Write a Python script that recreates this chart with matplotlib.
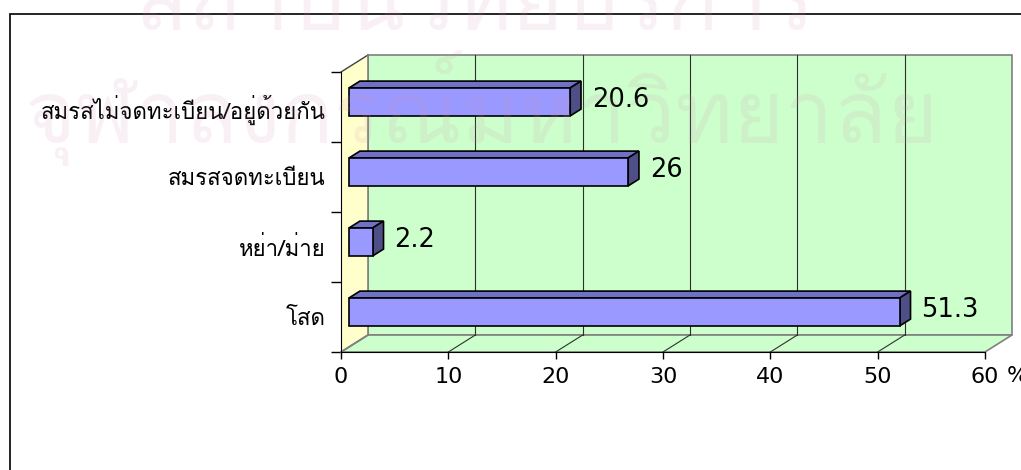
import matplotlib
matplotlib.use("Agg")
import matplotlib.pyplot as plt
from matplotlib import font_manager
from matplotlib.ft2font import FT2Font
from matplotlib.patches import Polygon, Rectangle

# marital status shares (%)
categories = ["โสด", "หย่า/ม่าย", "สมรสจดทะเบียน", "สมรสไม่จดทะเบียน/อยู่ด้วยกัน"]
values = [51.3, 2.2, 26, 20.6]
value_labels = ["51.3", "2.2", "26", "20.6"]
x_ticks = [0, 10, 20, 30, 40, 50, 60]
x_tick_labels = ["0", "10", "20", "30", "40", "50", "60"]
x_unit = "%"

W, H = 1021, 470
X_MAX = 60

PREFERRED_THAI = ["Tahoma", "Loma", "Waree", "Garuda", "Umpush", "Sawasdee",
                  "Noto Sans Thai Looped", "Noto Sans Thai", "Noto Serif Thai"]


def find_thai_font():
    found = set()
    for f in font_manager.fontManager.ttflist:
        try:
            cmap = FT2Font(f.fname).get_charmap()
        except Exception:
            continue
        if 0x0E2A in cmap and 0x0E22 in cmap:
            found.add(f.name)
    for name in PREFERRED_THAI:
        if name in found:
            return name
    return sorted(found)[0] if found else "DejaVu Sans"


thai_font = find_thai_font()
thai_family = [thai_font, "DejaVu Sans"]

plt.rcParams["font.family"] = ["DejaVu Sans"]

fig = plt.figure(figsize=(W / 100, H / 100), dpi=100)

# front plane of the 3-D plot area, in pixels
left, right, top, bottom = 341, 985, 72, 352
ax = fig.add_axes([left / W, 1 - bottom / H, (right - left) / W, (bottom - top) / H])
ax.set_xlim(0, X_MAX)
ax.set_ylim(0, len(categories))
ax.patch.set_visible(False)

# depth offset (27 px right, 17 px up) in data units
DX = 27 * X_MAX / (right - left)
DY = 17 * len(categories) / (bottom - top)
n = len(categories)

wall_edge = "#808080"
# back wall
ax.add_patch(Rectangle((DX, DY), X_MAX, n, facecolor="#CCFFCC", edgecolor=wall_edge,
                       lw=1.2, clip_on=False, zorder=1))
# side wall
ax.add_patch(Polygon([(0, 0), (0, n), (DX, n + DY), (DX, DY)], closed=True,
                     facecolor="#FFFFCC", edgecolor="none", clip_on=False, zorder=1))
ax.plot([0, DX], [n, n + DY], color="#404040", lw=1, clip_on=False, zorder=2)
# floor
ax.add_patch(Polygon([(0, 0), (X_MAX, 0), (X_MAX + DX, DY), (DX, DY)], closed=True,
                     facecolor="#CCFFCC", edgecolor=wall_edge, lw=1.2, clip_on=False, zorder=1))
ax.plot([DX, DX], [DY, n + DY], color=wall_edge, lw=1.2, clip_on=False, zorder=2)
ax.plot([0, DX], [0, DY], color=wall_edge, lw=1.2, clip_on=False, zorder=2)

# gridlines on back wall and floor
for t in x_ticks[1:-1]:
    ax.plot([t + DX, t + DX], [DY, n + DY], color="#303030", lw=0.8, clip_on=False, zorder=2)
    ax.plot([t, t + DX], [0, DY], color="#303030", lw=0.8, clip_on=False, zorder=2)

# 3-D bars
bar_h = 0.4
d0, d1 = 0.3, 0.7
for i, (v, lab) in enumerate(zip(values, value_labels)):
    c = i + 0.5
    x0 = d0 * DX
    x1 = v + d0 * DX
    yb = c - bar_h / 2 + d0 * DY
    yt = c + bar_h / 2 + d0 * DY
    ddx = (d1 - d0) * DX
    ddy = (d1 - d0) * DY
    ax.add_patch(Polygon([(x0, yt), (x1, yt), (x1 + ddx, yt + ddy), (x0 + ddx, yt + ddy)],
                         closed=True, facecolor="#7070C4", edgecolor="black", lw=1.2,
                         clip_on=False, zorder=4, joinstyle="miter"))
    ax.add_patch(Polygon([(x1, yb), (x1, yt), (x1 + ddx, yt + ddy), (x1 + ddx, yb + ddy)],
                         closed=True, facecolor="#4F4F88", edgecolor="black", lw=1.2,
                         clip_on=False, zorder=4, joinstyle="miter"))
    ax.add_patch(Rectangle((x0, yb), v, bar_h, facecolor="#9999FF", edgecolor="black",
                           lw=1.2, clip_on=False, zorder=5, joinstyle="miter"))
    ax.text(x1 + ddx + 1.0, c + 0.4 * DY, lab, ha="left", va="center",
            fontsize=18.5, zorder=6)

# axes
for s in ["top", "right"]:
    ax.spines[s].set_visible(False)
ax.spines["left"].set_color("black")
ax.spines["bottom"].set_color("black")
ax.spines["left"].set_zorder(3)
ax.spines["bottom"].set_zorder(3)
ax.set_xticks(x_ticks)
ax.set_xticklabels(x_tick_labels, fontsize=16)
ax.tick_params(axis="x", direction="out", length=5, width=1, pad=6)
ax.annotate(x_unit, xy=(X_MAX, 0), xytext=(22, -14), textcoords="offset pixels",
            ha="left", va="top", fontsize=16, annotation_clip=False)
ax.set_yticks(range(n + 1))
ax.set_yticklabels([])
ax.tick_params(axis="y", direction="out", length=7, width=1)
ax.set_yticks([i + 0.5 for i in range(n)], minor=True)
ax.set_yticklabels(categories, minor=True, fontsize=16, family=thai_family)
ax.tick_params(axis="y", which="minor", length=0, pad=11)

# chart frame
fig.add_artist(Rectangle((10 / W, -0.2), 1.2, 1 - 14 / H + 0.2, transform=fig.transFigure,
                         fill=False, edgecolor="black", lw=1.2))

# faint watermark
wm = dict(family=thai_family, color="#D890B8", alpha=0.13, weight="normal",
          ha="center", zorder=10, fontsize=63)
fig.text(475 / W, 1 - 30 / H, "สถาบันวิทยบริการ", va="baseline", **wm)
fig.text(482 / W, 1 - 143 / H, "จุฬาลงกรณ์มหาวิทยาลัย", va="baseline", **wm)

fig.savefig("out.png", dpi=100)
